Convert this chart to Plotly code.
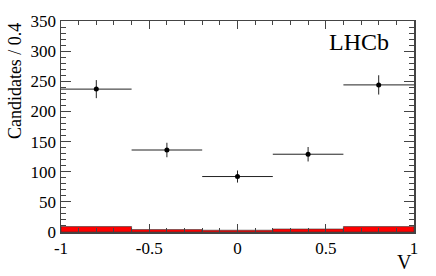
import plotly.graph_objects as go

bin_centers = [-0.8, -0.4, 0.0, 0.4, 0.8]
bin_half_width = [0.2, 0.2, 0.2, 0.2, 0.2]
candidates = [237, 136, 92, 129, 244]
candidates_err = [15, 12, 10, 12, 16]
background = [9, 4, 3, 5, 9]
x_ticks = [-1, -0.5, 0, 0.5, 1]
x_tick_labels = ["-1", "-0.5", "0", "0.5", "1"]
y_ticks = [0, 50, 100, 150, 200, 250, 300, 350]

FONT = "Liberation Serif, Times New Roman, serif"

fig = go.Figure()
fig.add_trace(go.Bar(
    x=bin_centers, y=background, width=0.4,
    marker=dict(color="#ff0000", line=dict(color="#333333", width=0.6)),
    showlegend=False, hoverinfo="skip",
))
fig.add_trace(go.Scatter(
    x=bin_centers, y=candidates, mode="markers",
    marker=dict(color="black", size=5),
    error_x=dict(type="data", array=bin_half_width, width=0, thickness=1, color="#222222"),
    error_y=dict(type="data", array=candidates_err, width=0, thickness=1, color="#222222"),
    showlegend=False, hoverinfo="skip",
))

axis_common = dict(
    showgrid=False, zeroline=False, showline=True, linecolor="#444444", linewidth=1.5,
    mirror="allticks", ticks="inside", tickcolor="#444444",
    tickfont=dict(family=FONT, size=17, color="black"),
)
fig.update_xaxes(range=[-1, 1], tickvals=x_ticks, ticktext=x_tick_labels, ticklen=8,
                 minor=dict(ticks="inside", dtick=0.1, ticklen=4, tickcolor="#444444"),
                 **axis_common)
fig.update_yaxes(range=[0, 350], tickvals=y_ticks, ticklen=10,
                 minor=dict(ticks="inside", dtick=10, ticklen=5, tickcolor="#444444"),
                 **axis_common)

fig.add_annotation(text="Candidates / 0.4", xref="paper", yref="paper", x=-0.13, y=1.0,
                   xanchor="center", yanchor="top", textangle=-90, showarrow=False,
                   font=dict(family=FONT, size=18, color="black"))
fig.add_annotation(text="V", xref="paper", yref="paper", x=1.0, y=-0.08,
                   xanchor="right", yanchor="top", showarrow=False,
                   font=dict(family=FONT, size=20, color="black"))
fig.add_annotation(text="LHCb", xref="paper", yref="paper", x=0.845, y=0.9,
                   xanchor="center", yanchor="middle", showarrow=False,
                   font=dict(family=FONT, size=24, color="black"))

fig.update_layout(
    width=436, height=276, bargap=0,
    margin=dict(l=61, r=22, t=15, b=44),
    plot_bgcolor="white", paper_bgcolor="white",
    font=dict(family=FONT, color="black"),
    hovermode=False,
)
fig.write_html("out.html", config={"displayModeBar": False, "staticPlot": True},
               post_script="document.body.style.margin='0';document.body.style.overflow='hidden';")
